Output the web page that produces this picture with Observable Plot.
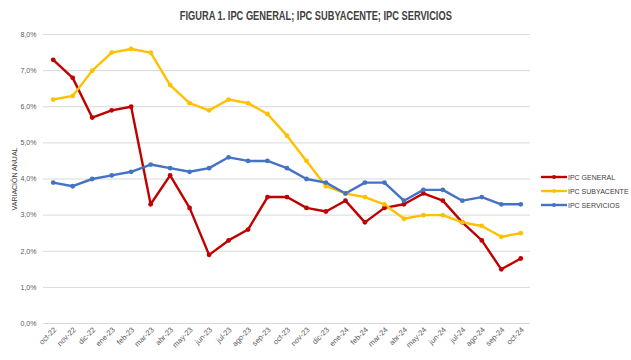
<!DOCTYPE html>
<html><head><meta charset="utf-8">
<script src="https://cdn.jsdelivr.net/npm/d3@7"></script>
<script src="https://cdn.jsdelivr.net/npm/@observablehq/plot@0.6"></script>
<style>
body{margin:0;background:#fff;font-family:"Liberation Sans",sans-serif;}
#wrap{position:relative;width:631px;height:360px;}
#title{height:26px;line-height:29px;text-align:center;color:#404040;}
#title span{display:inline-block;font-weight:bold;font-size:13px;transform-origin:50% 50%;}
#legend{position:absolute;left:541px;top:170px;font-size:7px;color:#404040;white-space:nowrap;width:90px;}
.li{height:14px;display:flex;align-items:center;white-space:nowrap;}
.li svg{margin-right:1px;flex:none;}
</style></head><body>
<div id="wrap"><div id="title"><span id="tt">FIGURA 1. IPC GENERAL; IPC SUBYACENTE; IPC SERVICIOS</span></div><div id="chart"></div><div id="legend"></div></div>
<script>
const months = ["oct-22","nov-22","dic-22","ene-23","feb-23","mar-23","abr-23","may-23","jun-23","jul-23","ago-23","sep-23","oct-23","nov-23","dic-23","ene-24","feb-24","mar-24","abr-24","may-24","jun-24","jul-24","ago-24","sep-24","oct-24"];
const ipcGeneral = [7.3,6.8,5.7,5.9,6.0,3.3,4.1,3.2,1.9,2.3,2.6,3.5,3.5,3.2,3.1,3.4,2.8,3.2,3.3,3.6,3.4,2.8,2.3,1.5,1.8];
const ipcSubyacente = [6.2,6.3,7.0,7.5,7.6,7.5,6.6,6.1,5.9,6.2,6.1,5.8,5.2,4.5,3.8,3.6,3.5,3.3,2.9,3.0,3.0,2.8,2.7,2.4,2.5];
const ipcServicios = [3.9,3.8,4.0,4.1,4.2,4.4,4.3,4.2,4.3,4.6,4.5,4.5,4.3,4.0,3.9,3.6,3.9,3.9,3.4,3.7,3.7,3.4,3.5,3.3,3.3];
const seriesNames = ["IPC GENERAL","IPC SUBYACENTE","IPC SERVICIOS"];
const seriesColors = ["#C00000","#FFC000","#4472C4"];
const yTicks = [0,1,2,3,4,5,6,7,8];

const seriesValues = [ipcGeneral, ipcSubyacente, ipcServicios];
const data = [];
seriesValues.forEach((vals,i)=>vals.forEach((v,j)=>data.push({serie:seriesNames[i], mes:months[j], v})));

const fmt = d => d.toFixed(1).replace(".",",") + "%";
const font = '"Liberation Sans",Arial,sans-serif';

// condense title to the reference width
const tt = document.getElementById("tt");
const tw = tt.getBoundingClientRect().width;
tt.style.transform = `scaleX(${272/tw})`;

const plot = Plot.plot({
  width:631, height:334,
  marginTop:8, marginBottom:37, marginLeft:43, marginRight:101,
  style:{fontFamily:font, fontSize:"7px", color:"#595959", background:"#fff"},
  x:{type:"point", domain:months, padding:0.5, round:false, label:null},
  y:{domain:[0,8], label:null},
  color:{domain:seriesNames, range:seriesColors},
  marks:[
    Plot.gridY(yTicks,{stroke:"#d9d9d9", strokeOpacity:1, strokeWidth:1}),
    Plot.axisY({ticks:yTicks, tickFormat:fmt, tickSize:0, tickPadding:7, label:null, fontSize:7, fill:"#595959"}),
    Plot.axisX({tickSize:0, tickRotate:-45, tickPadding:5, label:null, fontSize:7.5, fill:"#595959", dx:2}),
    Plot.line(data,{x:"mes", y:"v", z:"serie", stroke:"serie", strokeWidth:2.4, curve:"linear"}),
    Plot.dot(data,{x:"mes", y:"v", fill:"serie", r:2.4})
  ]
});
document.getElementById("chart").appendChild(plot);

// y axis title
const svg = d3.select(plot);
svg.append("text").attr("transform","translate(17,153) rotate(-90)").attr("text-anchor","middle")
  .attr("font-size","7px").attr("fill","#404040").attr("font-family",font).text("VARIACIÓN ANUAL");

// legend
const lg = d3.select("#legend");
seriesNames.forEach((n,i)=>{
  const row = lg.append("div").attr("class","li");
  const s = row.append("svg").attr("width",26).attr("height",8);
  s.append("line").attr("x1",0).attr("x2",26).attr("y1",4).attr("y2",4).attr("stroke",seriesColors[i]).attr("stroke-width",2.4);
  s.append("circle").attr("cx",13).attr("cy",4).attr("r",2).attr("fill",seriesColors[i]);
  row.append("span").text(n);
});
</script></body></html>
